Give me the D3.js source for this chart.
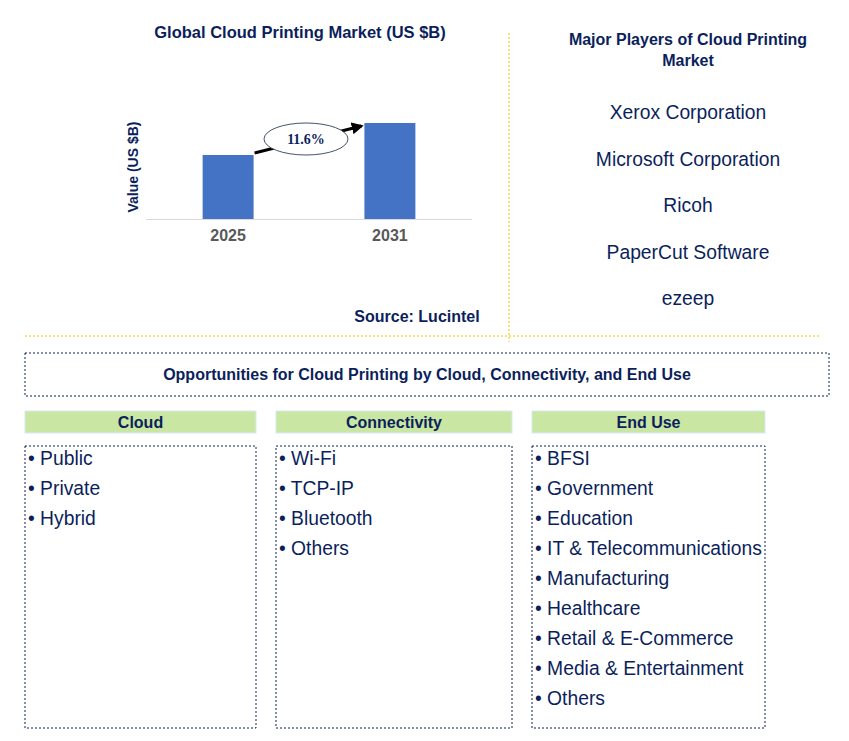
<!DOCTYPE html>
<html><head><meta charset="utf-8">
<script src="https://cdn.jsdelivr.net/npm/d3@7"></script>
<style>body{margin:0;background:#fff}text{font-family:Arial,"Liberation Sans",sans-serif}</style>
</head><body><svg width="849" height="741"></svg>
<script>
var years = ['2025', '2031'];
var values = [1.0, 1.5];
var cagr = '11.6%';
var players = ['Xerox Corporation', 'Microsoft Corporation', 'Ricoh', 'PaperCut Software', 'ezeep'];
var segTitles = ['Cloud', 'Connectivity', 'End Use'];
var cloudItems = ['Public', 'Private', 'Hybrid'];
var connItems = ['Wi-Fi', 'TCP-IP', 'Bluetooth', 'Others'];
var endUseItems = ['BFSI', 'Government', 'Education', 'IT & Telecommunications', 'Manufacturing', 'Healthcare', 'Retail & E-Commerce', 'Media & Entertainment', 'Others'];

var navy = '#0c1f5c';
var svg = d3.select('svg');

// chart
var x = d3.scaleBand().domain(years).range([146, 472]).paddingInner(0.685).paddingOuter(0.35);
var y = d3.scaleLinear().domain([0, 2]).range([219, 91]);

svg.append('text').attr('x', 300).attr('y', 38).attr('text-anchor', 'middle')
  .attr('font-size', 16.5).attr('font-weight', 'bold').attr('fill', navy).text('Global Cloud Printing Market (US $B)');

svg.selectAll('.bar').data(values).enter().append('rect')
  .attr('x', function(d, i) { return x(years[i]); })
  .attr('width', x.bandwidth())
  .attr('y', function(d) { return y(d); })
  .attr('height', function(d) { return y(0) - y(d); })
  .attr('fill', '#4472c4');

svg.append('line').attr('x1', 146).attr('x2', 472).attr('y1', 219.5).attr('y2', 219.5).attr('stroke', '#d9d9d9');
var xAxis = d3.axisBottom(x).tickSize(0).tickPadding(11);
var gx = svg.append('g').attr('transform', 'translate(0,219)').call(xAxis);
gx.select('.domain').remove();
gx.selectAll('text').attr('font-size', 16).attr('font-weight', 'bold').attr('fill', '#595959').attr('font-family', 'Arial');

svg.append('text').attr('transform', 'translate(138,167)rotate(-90)').attr('text-anchor', 'middle')
  .attr('font-size', 14).attr('font-weight', 'bold').attr('fill', navy).text('Value (US $B)');

// arrow
svg.append('defs').append('marker').attr('id', 'ah').attr('viewBox', '0 0 10 10').attr('refX', 8).attr('refY', 5)
  .attr('markerWidth', 4).attr('markerHeight', 4).attr('orient', 'auto')
  .append('path').attr('d', 'M0,0L10,5L0,10z').attr('fill', '#000');
var x0 = x(years[0]) + x.bandwidth(), x1 = x(years[1]);
svg.append('line').attr('x1', x0 + 1).attr('y1', y(values[0]) - 2).attr('x2', x1 - 3).attr('y2', y(values[1]) + 3)
  .attr('stroke', '#000').attr('stroke-width', 3).attr('marker-end', 'url(#ah)');
svg.append('ellipse').attr('cx', 306).attr('cy', 139).attr('rx', 42).attr('ry', 16)
  .attr('fill', '#fff').attr('stroke', '#44546a');
svg.append('text').attr('x', 306).attr('y', 144).attr('text-anchor', 'middle')
  .style('font-family', '"Liberation Serif", "Times New Roman", serif').attr('font-size', 14).attr('font-weight', 'bold').attr('fill', navy).text(cagr);

svg.append('text').attr('x', 417).attr('y', 322).attr('text-anchor', 'middle').attr('font-size', 16)
  .attr('font-weight', 'bold').attr('fill', navy).text('Source: Lucintel');

// dividers
svg.append('line').attr('x1', 509).attr('x2', 509).attr('y1', 33).attr('y2', 342).attr('stroke', '#f2c200').attr('stroke-dasharray', '2,2');
svg.append('line').attr('x1', 25).attr('x2', 820).attr('y1', 336).attr('y2', 336).attr('stroke', '#f2c200').attr('stroke-dasharray', '2,2');

// players
svg.append('text').attr('x', 688).attr('y', 45).attr('text-anchor', 'middle').attr('font-size', 16).attr('font-weight', 'bold').attr('fill', navy).text('Major Players of Cloud Printing');
svg.append('text').attr('x', 688).attr('y', 66).attr('text-anchor', 'middle').attr('font-size', 16).attr('font-weight', 'bold').attr('fill', navy).text('Market');
svg.selectAll('.pl').data(players).enter().append('text')
  .attr('x', 688).attr('y', function(d, i) { return 119 + i * 46.5; }).attr('text-anchor', 'middle')
  .attr('font-size', 19.3).attr('fill', navy).text(function(d) { return d; });

// opportunities
svg.append('rect').attr('x', 25).attr('y', 353).attr('width', 804).attr('height', 43).attr('fill', 'none')
  .attr('stroke', navy).attr('stroke-dasharray', '2,2');
svg.append('text').attr('x', 427).attr('y', 380).attr('text-anchor', 'middle').attr('font-size', 16).attr('font-weight', 'bold')
  .attr('fill', navy).text('Opportunities for Cloud Printing by Cloud, Connectivity, and End Use');

var cols = [25, 276, 532], widths = [231, 236, 233];
var lists = [cloudItems, connItems, endUseItems];
segTitles.forEach(function(t, c) {
  svg.append('rect').attr('x', cols[c]).attr('y', 411).attr('width', widths[c]).attr('height', 22)
    .attr('fill', '#c9e6a2').attr('stroke', '#d6eaf8');
  svg.append('text').attr('x', cols[c] + widths[c] / 2).attr('y', 428).attr('text-anchor', 'middle')
    .attr('font-size', 16).attr('font-weight', 'bold').attr('fill', navy).text(t);
  svg.append('rect').attr('x', cols[c]).attr('y', 446).attr('width', widths[c]).attr('height', 282)
    .attr('fill', 'none').attr('stroke', navy).attr('stroke-dasharray', '2,2');
  svg.selectAll('.it' + c).data(lists[c]).enter().append('text')
    .attr('x', cols[c] + 3).attr('y', function(d, i) { return 465 + i * 30; })
    .attr('font-size', 19.3).attr('fill', navy).text(function(d) { return '\u2022 ' + d; });
});
</script></body></html>
